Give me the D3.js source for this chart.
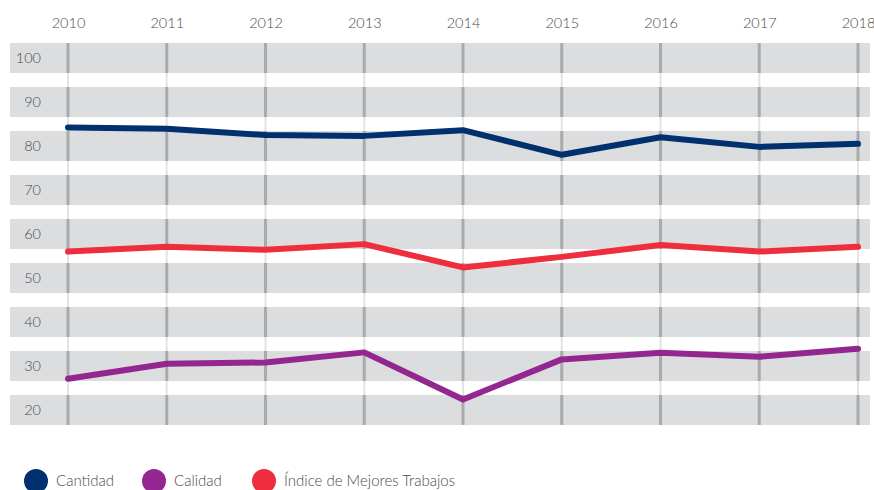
<!DOCTYPE html>
<html>
<head>
  <meta charset="utf-8">
  <title>Cantidad, Calidad e Índice de Mejores Trabajos</title>
  <style>
    body { margin: 0; background: #fff; }
    text { font-family: Lato, "Open Sans", sans-serif; font-weight: 300; fill: #4a4a4a; }
  </style>
</head>
<body>
  <script src="https://cdn.jsdelivr.net/npm/d3@7/dist/d3.min.js"></script>
  <script>
    // data
    var years = [2010, 2011, 2012, 2013, 2014, 2015, 2016, 2017, 2018];
    var yTicks = [100, 90, 80, 70, 60, 50, 40, 30, 20];
    var cantidad = [84.2, 83.9, 82.5, 82.3, 83.6, 78.0, 82.0, 79.8, 80.5];
    var calidad = [27.1, 30.5, 30.8, 33.1, 22.4, 31.5, 33.0, 32.1, 33.9];
    var indice = [56.0, 57.1, 56.4, 57.7, 52.4, 54.8, 57.5, 56.0, 57.1];
    var seriesNames = ["Cantidad", "Calidad", "Índice de Mejores Trabajos"];
    var seriesColors = ["#00306e", "#93268f", "#ee2e3f"];

    var width = 874, height = 490;
    var bandHalf = 15;

    var svg = d3.select("body").append("svg")
      .attr("width", width)
      .attr("height", height);

    // scales
    var x = d3.scalePoint().domain(years).range([68, 858]);
    var y = d3.scaleLinear().domain([20, 100]).range([410, 58]);

    // grey bands, one per tick
    svg.selectAll(".band")
      .data(yTicks)
      .enter().append("rect")
      .attr("class", "band")
      .attr("x", 10)
      .attr("width", 860)
      .attr("y", function(d) { return y(d) - bandHalf; })
      .attr("height", bandHalf * 2)
      .attr("fill", "#dcdddf");

    // thin light vertical lines across the whole plot
    svg.selectAll(".vlight")
      .data(years)
      .enter().append("line")
      .attr("class", "vlight")
      .attr("x1", function(d) { return x(d); })
      .attr("x2", function(d) { return x(d); })
      .attr("y1", y(100) - bandHalf)
      .attr("y2", y(20) + bandHalf)
      .attr("stroke", "#e4e4e6")
      .attr("stroke-width", 2);

    // darker segments inside the bands
    years.forEach(function(yr) {
      svg.selectAll(null)
        .data(yTicks)
        .enter().append("line")
        .attr("x1", x(yr))
        .attr("x2", x(yr))
        .attr("y1", function(d) { return y(d) - bandHalf; })
        .attr("y2", function(d) { return y(d) + bandHalf; })
        .attr("stroke", "#a9aaac")
        .attr("stroke-width", 3);
    });

    // year labels on top
    svg.append("g")
      .attr("transform", "translate(0,28)")
      .call(d3.axisTop(x).tickSize(0).tickPadding(0))
      .call(function(g) { g.select(".domain").remove(); })
      .selectAll("text")
      .style("font-size", "14.5px")
      .attr("fill", "#4a4a4a");

    // value labels on the left
    svg.append("g")
      .attr("transform", "translate(41,0)")
      .call(d3.axisLeft(y).tickValues(yTicks).tickSize(0).tickPadding(0))
      .call(function(g) { g.select(".domain").remove(); })
      .selectAll("text")
      .style("font-size", "14.5px")
      .attr("fill", "#4a4a4a");

    // lines
    var line = d3.line()
      .x(function(d, i) { return x(years[i]); })
      .y(function(d) { return y(d); });

    var allSeries = [cantidad, calidad, indice];
    svg.selectAll(".series")
      .data(allSeries)
      .enter().append("path")
      .attr("class", "series")
      .attr("d", line)
      .attr("fill", "none")
      .attr("stroke", function(d, i) { return seriesColors[i]; })
      .attr("stroke-width", 6)
      .attr("stroke-linecap", "round")
      .attr("stroke-linejoin", "round");

    // legend
    var legendX = [36, 154, 264];
    var legend = svg.selectAll(".legend")
      .data(seriesNames)
      .enter().append("g")
      .attr("class", "legend")
      .attr("transform", function(d, i) { return "translate(" + legendX[i] + ",481)"; });

    legend.append("circle")
      .attr("r", 12)
      .attr("fill", function(d, i) { return seriesColors[i]; });

    legend.append("text")
      .attr("x", 20)
      .attr("dy", "0.35em")
      .style("font-size", "15px")
      .text(function(d) { return d; });
  </script>
</body>
</html>
